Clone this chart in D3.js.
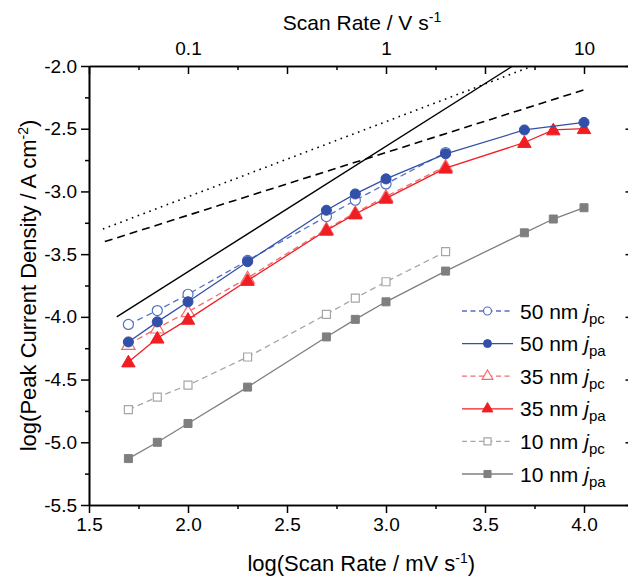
<!DOCTYPE html>
<html>
<head>
<meta charset="utf-8">
<script src="https://cdn.jsdelivr.net/npm/d3@7"></script>
<style>
  body { margin: 0; background: #fff; }
  text { font-family: "Liberation Sans", Arial, sans-serif; }
</style>
</head>
<body>
<div id="chart"></div>
<script>
// scan rates as log10(mV/s): 50, 70, 100, 200, 500, 700, 1000, 2000, 5000, 7000, 10000
var scanLog = [1.699, 1.845, 2.0, 2.301, 2.699, 2.845, 3.0, 3.301, 3.699, 3.845, 4.0];

// log(peak current density / A cm-2)
var j50pc = [-4.06, -3.95, -3.82, -3.55, -3.20, -3.07, -2.94, -2.69];
var j50pa = [-4.20, -4.04, -3.88, -3.56, -3.15, -3.02, -2.90, -2.70, -2.51, null, -2.45];
var j35pc = [-4.22, -4.09, -3.96, -3.69, -3.30, -3.17, -3.04, -2.80];
var j35pa = [-4.36, -4.17, -4.02, -3.71, -3.31, -3.18, -3.055, -2.815, -2.61, -2.51, -2.50];
var j10pc = [-4.74, -4.64, -4.545, -4.32, -3.98, -3.85, -3.72, -3.48];
var j10pa = [-5.13, -5.00, -4.85, -4.56, -4.16, -4.02, -3.88, -3.635, -3.33, -3.22, -3.13];

// reference slope lines (black)
var refSolid = [[1.64, -4.0], [3.64, -2.0]];
var refDash = [[1.58, -3.40], [4.0, -2.19]];
var refDot = [[1.57, -3.30], [3.74, -2.0]];

// axis ticks
var xMajor = [1.5, 2.0, 2.5, 3.0, 3.5, 4.0];
var xMinor = [1.75, 2.25, 2.75, 3.25, 3.75];
var yMajor = [-2.0, -2.5, -3.0, -3.5, -4.0, -4.5, -5.0, -5.5];
var yMinor = [-2.25, -2.75, -3.25, -3.75, -4.25, -4.75, -5.25];
var topTicks = [2, 3, 4];
var topLabels = ["0.1", "1", "10"];

var legendNames = ["50 nm", "50 nm", "35 nm", "35 nm", "10 nm", "10 nm"];
var legendSubs = ["pc", "pa", "pc", "pa", "pc", "pa"];

// svg attributes
let svgWidth = 628;
let svgHeight = 576;
let mLeft = 89, mRight = 633.5, mTop = 66, mBottom = 505;

var blue = "#3350a8", blueLight = "#5470bf";
var red = "#f01e23", redLight = "#f46a6a";
var gray = "#7f7f7f", grayLight = "#a6a6a6";

var series = [
  { vals: j50pc, color: blueLight, dash: "6,4", shape: "circle", open: true },
  { vals: j50pa, color: blue, dash: null, shape: "circle", open: false },
  { vals: j35pc, color: redLight, dash: "6,4", shape: "triangle", open: true },
  { vals: j35pa, color: red, dash: null, shape: "triangle", open: false },
  { vals: j10pc, color: grayLight, dash: "6,4", shape: "square", open: true },
  { vals: j10pa, color: gray, dash: null, shape: "square", open: false }
];

var xscale = d3.scaleLinear().domain([1.5, 4.25]).range([mLeft, mRight]);
var yscale = d3.scaleLinear().domain([-5.5, -2.0]).range([mBottom, mTop]);

let svg = d3.select("#chart")
  .append("svg")
  .attr("width", svgWidth)
  .attr("height", svgHeight);

function styleAxis(g) {
  g.selectAll("path").attr("stroke", "#000").attr("stroke-width", 1.6);
  g.selectAll("line").attr("stroke", "#000").attr("stroke-width", 1.5);
  g.selectAll("text").attr("fill", "#000").style("font-size", "19px")
    .style("font-family", "'Liberation Sans', Arial, sans-serif");
}

// bottom axis
svg.append("g")
  .attr("transform", "translate(0," + mBottom + ")")
  .call(d3.axisBottom(xscale).tickValues(xMinor).tickSize(4).tickFormat("").tickSizeOuter(0))
  .call(styleAxis);
svg.append("g")
  .attr("transform", "translate(0," + mBottom + ")")
  .call(d3.axisBottom(xscale).tickValues(xMajor).tickSize(8).tickSizeOuter(0)
    .tickPadding(5).tickFormat(d => d.toFixed(1)))
  .call(styleAxis);

// top axis (scan rate in V/s), ticks inward
svg.append("g")
  .attr("transform", "translate(0," + mTop + ")")
  .call(d3.axisTop(xscale).tickValues(xMinor).tickSize(-4).tickFormat("").tickSizeOuter(0))
  .call(styleAxis);
svg.append("g")
  .attr("transform", "translate(0," + mTop + ")")
  .call(d3.axisTop(xscale).tickValues(xMajor).tickSize(-8).tickFormat("").tickSizeOuter(0))
  .call(styleAxis);
svg.append("g")
  .attr("transform", "translate(0," + mTop + ")")
  .call(d3.axisTop(xscale).tickValues(topTicks).tickSize(0).tickPadding(11)
    .tickFormat((d, i) => topLabels[i]))
  .call(styleAxis)
  .call(g => g.select(".domain").remove());

// left axis
svg.append("g")
  .attr("transform", "translate(" + mLeft + ",0)")
  .call(d3.axisLeft(yscale).tickValues(yMinor).tickSize(4).tickFormat("").tickSizeOuter(0))
  .call(styleAxis);
svg.append("g")
  .attr("transform", "translate(" + mLeft + ",0)")
  .call(d3.axisLeft(yscale).tickValues(yMajor).tickSize(8).tickPadding(4).tickSizeOuter(0)
    .tickFormat(d => d.toFixed(1)))
  .call(styleAxis);

// right axis, ticks inward
svg.append("g")
  .attr("transform", "translate(" + mRight + ",0)")
  .call(d3.axisRight(yscale).tickValues(yMinor).tickSize(-4).tickFormat("").tickSizeOuter(0))
  .call(styleAxis);
svg.append("g")
  .attr("transform", "translate(" + mRight + ",0)")
  .call(d3.axisRight(yscale).tickValues(yMajor).tickSize(-8).tickFormat("").tickSizeOuter(0))
  .call(styleAxis);

// axis titles
svg.append("text")
  .attr("x", 362)
  .attr("y", 30)
  .attr("text-anchor", "middle")
  .style("font-size", "21px")
  .html('Scan Rate / V s<tspan dy="-8" font-size="14px">-1</tspan>');

svg.append("text")
  .attr("x", (mLeft + mRight) / 2)
  .attr("y", 571)
  .attr("text-anchor", "middle")
  .style("font-size", "22px")
  .html('log(Scan Rate / mV s<tspan dy="-8" font-size="14px">-1</tspan><tspan dy="8">)</tspan>');

svg.append("text")
  .attr("transform", "translate(36," + (mTop + mBottom) / 2 + ") rotate(-90)")
  .attr("text-anchor", "middle")
  .style("font-size", "22px")
  .html('log(Peak Current Density / A cm<tspan dy="-8" font-size="14px">-2</tspan><tspan dy="8">)</tspan>');

// plot area clip
svg.append("clipPath").attr("id", "plotclip")
  .append("rect").attr("x", mLeft).attr("y", mTop)
  .attr("width", mRight - mLeft).attr("height", mBottom - mTop);

let plot = svg.append("g").attr("clip-path", "url(#plotclip)");

var refLine = d3.line().x(d => xscale(d[0])).y(d => yscale(d[1]));
plot.append("path").attr("d", refLine(refSolid))
  .attr("fill", "none").attr("stroke", "#000").attr("stroke-width", 1.4);
plot.append("path").attr("d", refLine(refDash))
  .attr("fill", "none").attr("stroke", "#000").attr("stroke-width", 1.6)
  .attr("stroke-dasharray", "8,5");
plot.append("path").attr("d", refLine(refDot))
  .attr("fill", "none").attr("stroke", "#000").attr("stroke-width", 1.6)
  .attr("stroke-dasharray", "1.6,4.6");

function markerPath(shape, size) {
  if (shape === "circle") return d3.symbol(d3.symbolCircle, size || 80)();
  if (shape === "triangle") return d3.symbol(d3.symbolTriangle, size || 78)();
  return d3.symbol(d3.symbolSquare, size || 64)();
}

function drawMarker(sel, s, size) {
  sel.attr("d", markerPath(s.shape, size))
    .attr("fill", s.open ? "#fff" : s.color)
    .attr("stroke", s.color)
    .attr("stroke-width", s.open ? 1.2 : 1);
}

var dataLine = d3.line()
  .x(d => xscale(d[0]))
  .y(d => yscale(d[1]));

// dashed series first, filled ones on top
var order = [4, 5, 2, 3, 0, 1];
order.forEach(function (k) {
  var s = series[k];
  var pts = s.vals.map((v, i) => [scanLog[i], v]).filter(d => d[1] != null);
  plot.append("path")
    .attr("d", dataLine(pts))
    .attr("fill", "none")
    .attr("stroke", s.color)
    .attr("stroke-width", 1.3)
    .attr("stroke-dasharray", s.dash);
  plot.selectAll(null)
    .data(pts)
    .enter()
    .append("path")
    .attr("transform", d => "translate(" + xscale(d[0]) + "," + (yscale(d[1]) + (s.shape === "triangle" ? 1 : 0)) + ")")
    .each(function () { drawMarker(d3.select(this), s); });
});

// legend
let legend = svg.append("g");
series.forEach(function (s, i) {
  var ly = 311 + i * 32.6;
  legend.append("line")
    .attr("x1", 462).attr("x2", 513).attr("y1", ly).attr("y2", ly)
    .attr("stroke", s.color).attr("stroke-width", 1.3)
    .attr("stroke-dasharray", s.dash ? "5,3.5" : null);
  legend.append("path")
    .attr("transform", "translate(487.5," + ly + ")")
    .call(sel => drawMarker(sel, s, 50));
  legend.append("text")
    .attr("x", 520).attr("y", ly + 7.5)
    .style("font-size", "21px")
    .html(legendNames[i] + ' <tspan font-style="italic">j</tspan><tspan dy="5" font-size="15px">' + legendSubs[i] + '</tspan>');
});
</script>
</body>
</html>
